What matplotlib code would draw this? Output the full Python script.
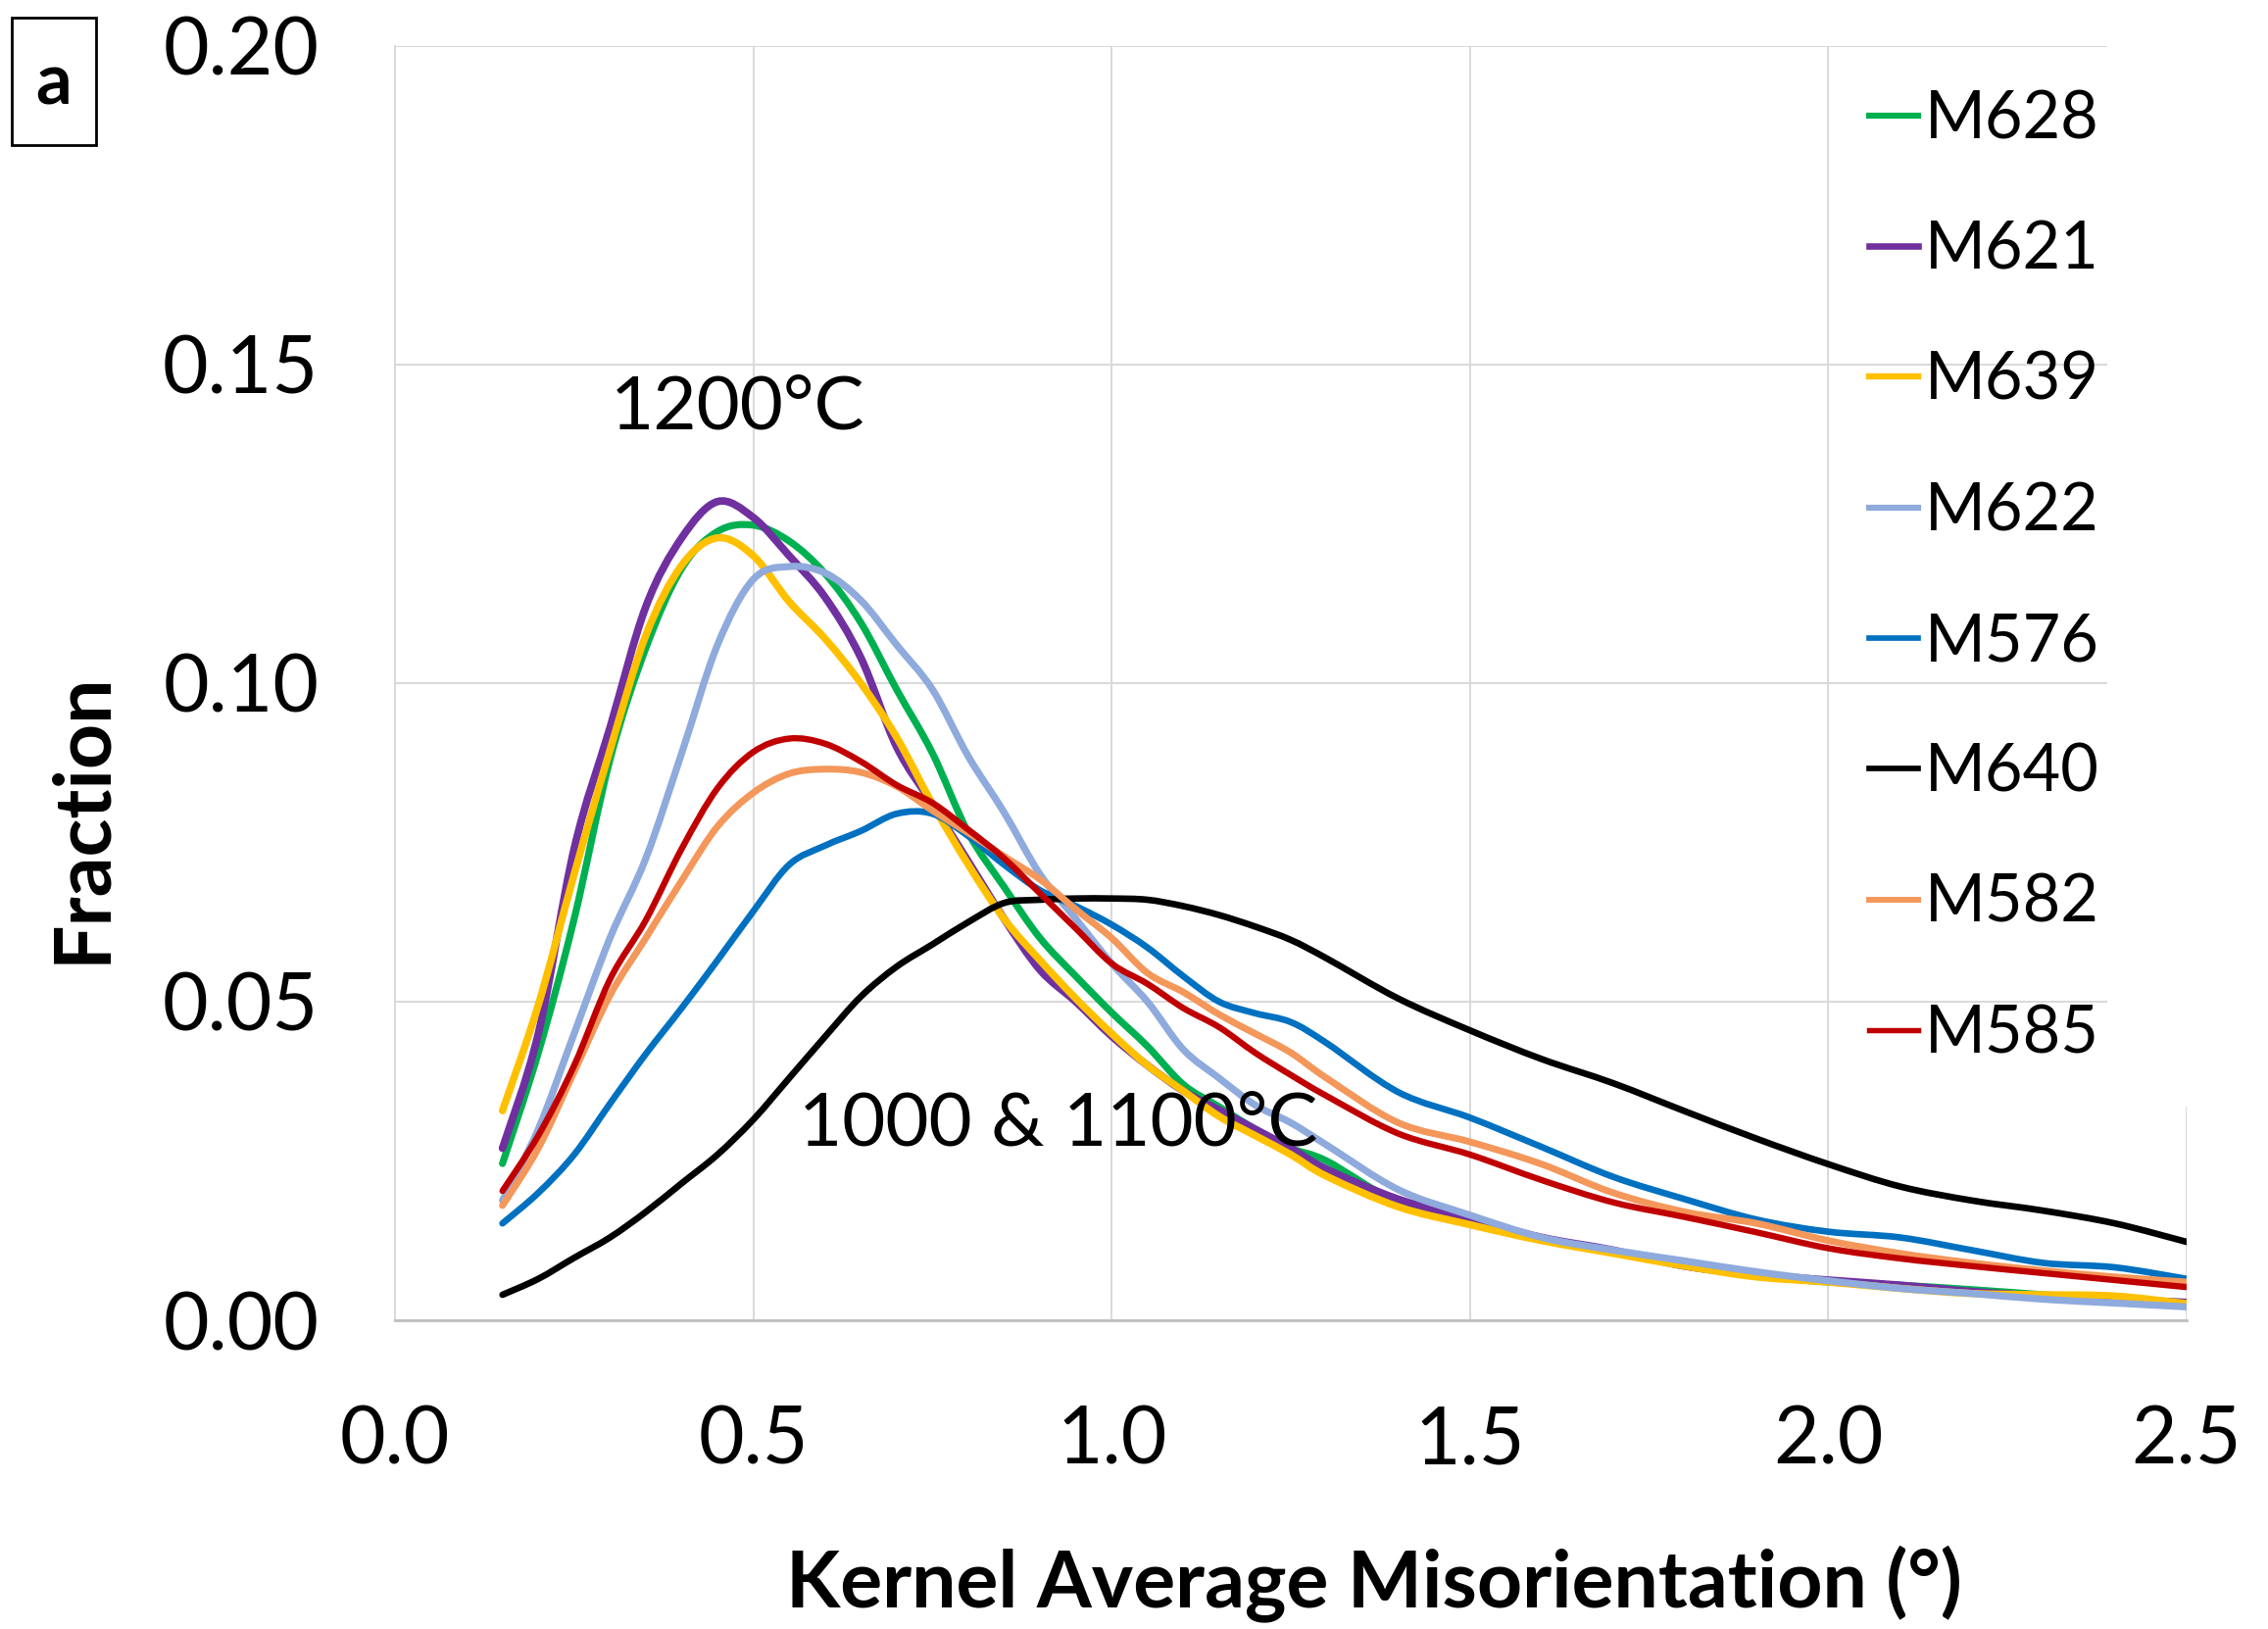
import numpy as np
import matplotlib
matplotlib.use("Agg")
import matplotlib.pyplot as plt
from matplotlib.patches import Rectangle, PathPatch
from matplotlib.path import Path
from matplotlib.lines import Line2D

plt.rcParams['font.family'] = ['Lato', 'DejaVu Sans']

# KAM bins (deg)
kam = [0.15, 0.20, 0.25, 0.30, 0.35, 0.40, 0.45, 0.50, 0.55, 0.60, 0.65, 0.70,
       0.75, 0.80, 0.85, 0.90, 0.95, 1.00, 1.05, 1.10, 1.15, 1.20, 1.25, 1.30,
       1.40, 1.50, 1.60, 1.70, 1.80, 1.90, 2.00, 2.10, 2.20, 2.30, 2.40, 2.50]

m628 = [0.0246, 0.042, 0.063, 0.088, 0.1055, 0.118, 0.1238, 0.1248, 0.1223, 0.1172, 0.1095, 0.099,
        0.089, 0.0765, 0.068, 0.060, 0.054, 0.0483, 0.043, 0.037, 0.0335, 0.030, 0.027, 0.025,
        0.0185, 0.0155, 0.0128, 0.0108, 0.0085, 0.007, 0.006, 0.0055, 0.0048, 0.004, 0.0032, 0.0026]
m621 = [0.027, 0.045, 0.074, 0.093, 0.112, 0.1228, 0.1285, 0.126, 0.120, 0.1135, 0.104, 0.090,
        0.081, 0.072, 0.063, 0.055, 0.050, 0.0446, 0.040, 0.036, 0.033, 0.030, 0.027, 0.0237,
        0.019, 0.016, 0.013, 0.011, 0.0085, 0.0072, 0.0063, 0.0055, 0.0045, 0.0038, 0.0033, 0.0028]
m639 = [0.0329, 0.0495, 0.070, 0.0895, 0.1075, 0.1185, 0.1228, 0.120, 0.1128, 0.107, 0.100, 0.0915,
        0.081, 0.0715, 0.063, 0.0565, 0.0505, 0.045, 0.040, 0.036, 0.032, 0.029, 0.026, 0.0226,
        0.0178, 0.015, 0.0125, 0.0105, 0.0085, 0.0068, 0.006, 0.005, 0.0042, 0.004, 0.0038, 0.0026]
m622 = [0.0188, 0.030, 0.045, 0.060, 0.0725, 0.089, 0.106, 0.1163, 0.1183, 0.1173, 0.113, 0.106,
        0.099, 0.0885, 0.0797, 0.070, 0.063, 0.056, 0.050, 0.0425, 0.038, 0.0338, 0.031, 0.0275,
        0.0205, 0.0165, 0.013, 0.011, 0.0093, 0.0076, 0.0062, 0.005, 0.0042, 0.0033, 0.0027, 0.0021]
m576 = [0.0152, 0.020, 0.026, 0.034, 0.0418, 0.049, 0.0565, 0.0642, 0.0715, 0.0745, 0.0768, 0.0795,
        0.0795, 0.076, 0.0715, 0.0675, 0.065, 0.0621, 0.0585, 0.054, 0.050, 0.0482, 0.0468, 0.0435,
        0.0358, 0.0318, 0.0272, 0.0225, 0.019, 0.0158, 0.0139, 0.013, 0.011, 0.009, 0.0083, 0.0065]
m640 = [0.004, 0.0065, 0.0098, 0.013, 0.017, 0.0215, 0.026, 0.0315, 0.038, 0.0445, 0.0508, 0.0555,
        0.059, 0.0625, 0.0655, 0.066, 0.0662, 0.0662, 0.066, 0.065, 0.0636, 0.0618, 0.0597, 0.0568,
        0.0505, 0.0455, 0.041, 0.0372, 0.0328, 0.0285, 0.0245, 0.021, 0.0188, 0.0172, 0.0152, 0.0123]
m582 = [0.018, 0.027, 0.039, 0.051, 0.060, 0.069, 0.0775, 0.0828, 0.0858, 0.0865, 0.086, 0.0838,
        0.080, 0.0765, 0.0728, 0.0692, 0.0645, 0.060, 0.0545, 0.0515, 0.048, 0.045, 0.042, 0.038,
        0.031, 0.028, 0.0245, 0.020, 0.017, 0.0152, 0.0125, 0.0105, 0.009, 0.0078, 0.0068, 0.006]
m585 = [0.0203, 0.029, 0.040, 0.0535, 0.0628, 0.074, 0.0835, 0.0892, 0.0913, 0.0905, 0.0877, 0.084,
        0.0812, 0.077, 0.0725, 0.067, 0.0615, 0.056, 0.0528, 0.049, 0.046, 0.042, 0.0385, 0.0352,
        0.0293, 0.026, 0.022, 0.0185, 0.0162, 0.0138, 0.0113, 0.0097, 0.0085, 0.0074, 0.0063, 0.0052]

labels = ["M628", "M621", "M639", "M622", "M576", "M640", "M582", "M585"]
series = [m628, m621, m639, m622, m576, m640, m582, m585]
colors = ["#00B050", "#7030A0", "#FFC000", "#8FAADC", "#0070C0", "#000000", "#F4975A", "#C00000"]
widths = [5.2, 5.6, 5.4, 5.2, 4.8, 4.8, 5.0, 4.6]

x_ticks = [0.0, 0.5, 1.0, 1.5, 2.0, 2.5]
y_ticks = [0.00, 0.05, 0.10, 0.15, 0.20]


def smooth_path(xs, ys):
    # smoothed line like Excel: cubic Bezier through every data point
    p = np.column_stack([xs, ys])
    ext = np.vstack([p[0], p, p[-1]])
    verts = [p[0]]
    codes = [Path.MOVETO]
    for i in range(len(p) - 1):
        c1 = ext[i + 1] + (ext[i + 2] - ext[i]) / 6
        c2 = ext[i + 2] - (ext[i + 3] - ext[i + 1]) / 6
        verts += [c1, c2, ext[i + 2]]
        codes += [Path.CURVE4] * 3
    return Path(verts, codes)


fig = plt.figure(figsize=(23.14, 16.62), dpi=100)
ax = fig.add_axes([403 / 2314, 1 - 1347 / 1662, 1828 / 2314, 1300 / 1662])

handles = []
for y, lab, c, w in zip(series, labels, colors, widths):
    ax.add_patch(PathPatch(smooth_path(kam, y), facecolor='none', edgecolor=c, lw=w,
                           joinstyle='round', capstyle='round'))
    handles.append(Line2D([], [], color=c, lw=w * 0.85, label=lab))

ax.set_xlim(0, 2.5)
ax.set_ylim(0, 0.2)
ax.set_xticks(x_ticks)
ax.set_xticklabels([f"{v:.1f}" for v in x_ticks])
ax.set_yticks(y_ticks)
ax.set_yticklabels([f"{v:.2f}" for v in y_ticks])
ax.tick_params(axis='both', length=0, labelsize=58)
ax.tick_params(axis='x', pad=62)
ax.tick_params(axis='y', pad=56)
ax.grid(True, color="#d9d9d9", lw=1.4)
ax.set_axisbelow(True)
for s in ["top", "right"]:
    ax.spines[s].set_visible(False)
ax.spines["left"].set_color("#d9d9d9")
ax.spines["left"].set_linewidth(1.4)
ax.spines["bottom"].set_color("#bfbfbf")
ax.spines["bottom"].set_linewidth(2)

ax.text(0.301, 0.1432, "1200°C", fontsize=55, va='center', ha='left')
ax.text(0.563, 0.0308, "1000 & 1100°C", fontsize=55, va='center', ha='left')

leg = ax.legend(handles=handles, loc='upper left', bbox_to_anchor=(1907 / 2314, 1 - 91 / 1662),
                bbox_transform=fig.transFigure, frameon=False, fontsize=48,
                handlelength=0.75, handletextpad=0.1, labelspacing=1.07,
                borderpad=0, borderaxespad=0)

fig.text(1402 / 2314, 1 - 1616 / 1662, "Kernel Average Misorientation (°)",
         fontsize=58, fontweight='bold', ha='center', va='center')
fig.text(84 / 2314, 1 - 834 / 1662, "Fraction", fontsize=58, fontweight='bold',
         rotation=90, ha='center', va='center')

# white block at top right (covers grid end)
fig.patches.append(Rectangle((2150 / 2314, 1 - 1129 / 1662), 1, 1129 / 1662,
                             transform=fig.transFigure, facecolor='white',
                             edgecolor='none', zorder=5))

# panel label
fig.patches.append(Rectangle((12 / 2314, 1 - 148 / 1662), 86 / 2314, 130 / 1662,
                             transform=fig.transFigure, facecolor='white',
                             edgecolor='black', lw=2, zorder=6))
fig.text(55 / 2314, 1 - 86 / 1662, "a", fontsize=52, fontweight='bold',
         ha='center', va='center', zorder=7)

fig.savefig("out.png", dpi=100)
